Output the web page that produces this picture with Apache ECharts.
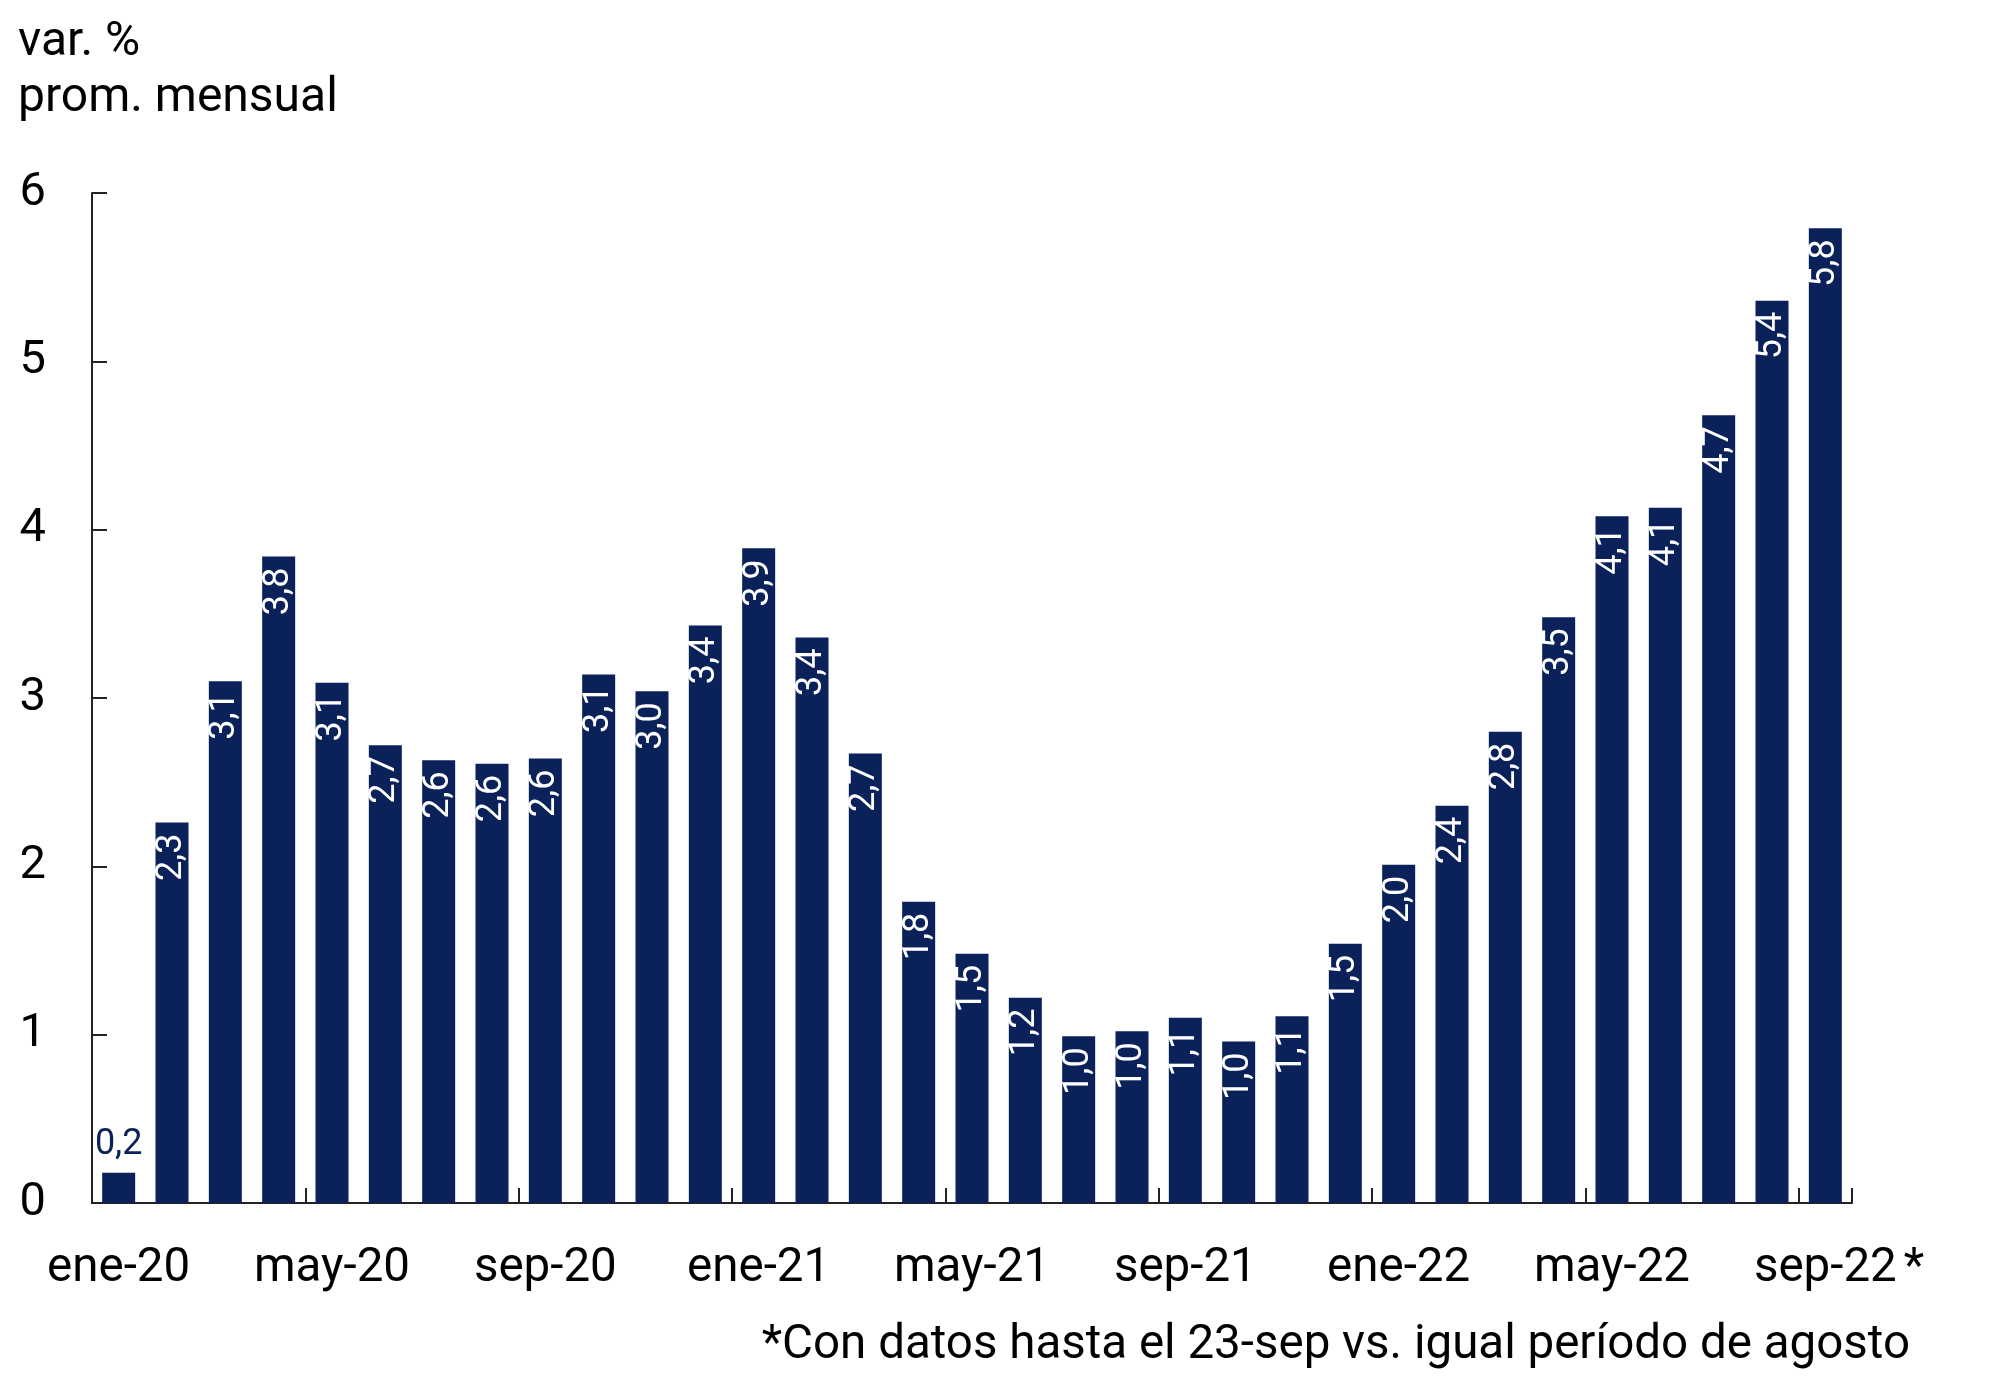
<!DOCTYPE html>
<html>
<head>
<meta charset="utf-8">
<script src="https://cdn.jsdelivr.net/npm/echarts@6/dist/echarts.min.js"></script>
<style>
html,body{margin:0;padding:0;background:#fff;}
#chart{width:1999px;height:1384px;}
</style>
</head>
<body>
<div id="chart"></div>
<script>
const categories = ["ene-20","feb-20","mar-20","abr-20","may-20","jun-20","jul-20","ago-20","sep-20","oct-20","nov-20","dic-20",
  "ene-21","feb-21","mar-21","abr-21","may-21","jun-21","jul-21","ago-21","sep-21","oct-21","nov-21","dic-21",
  "ene-22","feb-22","mar-22","abr-22","may-22","jun-22","jul-22","ago-22","sep-22*"];
const values = [0.18, 2.26, 3.10, 3.84, 3.09, 2.72, 2.63, 2.61, 2.64, 3.14, 3.04, 3.43,
  3.89, 3.36, 2.67, 1.79, 1.48, 1.22, 0.99, 1.02, 1.10, 0.96, 1.11, 1.54,
  2.01, 2.36, 2.80, 3.48, 4.08, 4.13, 4.68, 5.36, 5.79];
const yTicks = [0, 1, 2, 3, 4, 5, 6];
const titleText = "var. %\nprom. mensual";
const footnote = "*Con datos hasta el 23-sep vs. igual período de agosto";

const NAVY = '#0a2159';
const TXT = '#000';
const FONT = 'Roboto';
const fmt = v => v.toFixed(1).replace('.', ',');

const seriesData = values.map((v, i) => i === 0 ? {
  value: v,
  label: { position: 'top', rotate: 0, align: 'center', verticalAlign: 'bottom', color: NAVY, distance: 10 }
} : v);

const chart = echarts.init(document.getElementById('chart'), null, { renderer: 'canvas' });
chart.setOption({
  animation: false,
  backgroundColor: '#fff',
  textStyle: { fontFamily: FONT },
  title: [
    { text: titleText, left: 13, top: 10,
      textStyle: { fontFamily: FONT, fontSize: 48, fontWeight: 'normal', color: TXT, lineHeight: 56 } },
    { text: footnote, right: 84, bottom: 9,
      textStyle: { fontFamily: FONT, fontSize: 47.5, fontWeight: 'normal', color: TXT } }
  ],
  grid: { left: 92, right: 147, top: 193, bottom: 181, containLabel: false },
  xAxis: {
    type: 'category',
    data: categories,
    boundaryGap: true,
    axisLine: { show: true, lineStyle: { color: '#222', width: 2 } },
    axisTick: { show: true, inside: true, length: 15, interval: 3, lineStyle: { color: '#222', width: 2 } },
    axisLabel: {
      interval: 3, margin: 42, fontFamily: FONT, fontSize: 47.5, color: TXT,
      formatter: v => v.endsWith('*') ? '{h|*}' + v.slice(0, -1) + '{s|*}' : v,
      rich: {
        h: { color: 'transparent', fontFamily: FONT, fontSize: 47.5, padding: [0, 7, 0, 0] },
        s: { color: TXT, fontFamily: FONT, fontSize: 47.5, padding: [0, 0, 0, 7] }
      }
    },
    splitLine: { show: false }
  },
  yAxis: {
    type: 'value',
    min: yTicks[0], max: yTicks[yTicks.length - 1], interval: 1,
    axisLine: { show: true, lineStyle: { color: '#222', width: 2 } },
    axisTick: { show: true, inside: true, length: 15, lineStyle: { color: '#222', width: 2 } },
    axisLabel: { margin: 46, fontFamily: FONT, fontSize: 47, color: TXT },
    splitLine: { show: false }
  },
  series: [{
    type: 'bar',
    data: seriesData,
    barWidth: 33,
    itemStyle: { color: NAVY },
    label: {
      show: true,
      position: 'insideTop',
      rotate: 90,
      align: 'right',
      verticalAlign: 'middle',
      distance: 11,
      color: '#fff',
      fontFamily: FONT,
      fontSize: 36,
      formatter: p => fmt(p.value)
    }
  }]
});
</script>
</body>
</html>
